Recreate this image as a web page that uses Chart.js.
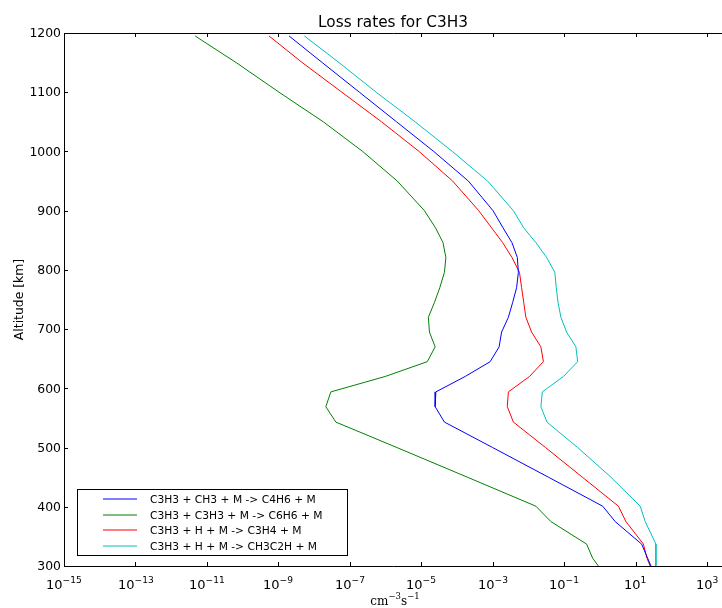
<!DOCTYPE html>
<html>
<head>
<meta charset="utf-8">
<title>Loss rates for C3H3</title>
<script src="https://cdn.jsdelivr.net/npm/chart.js@4/dist/chart.umd.min.js"></script>
<style>
html, body { margin: 0; padding: 0; background: #fff; }
#wrap { width: 722px; height: 608px; position: relative; }
</style>
</head>
<body>
<div id="wrap"><canvas id="lossChart" width="722" height="608"></canvas></div>
<script>
'use strict';

// altitude grid [km]
var altitude = [1195, 1150, 1100, 1050, 1000, 950, 900, 871, 846, 821, 796, 770, 745, 720,
                695, 670, 645, 620, 594, 569, 543, 500, 450, 401, 375, 337, 313, 300];

// log10 of the loss rate [cm^-3 s^-1], one value per altitude
var lossCH3    = [-8.70, -7.77, -6.73, -5.69, -4.65, -3.68, -2.99, -2.71, -2.46, -2.31, -2.28, -2.33, -2.44, -2.56,
                  -2.75, -2.82, -3.07, -3.77, -4.59, -4.61, -4.35, -3.00, -1.44, 0.08, 0.43, 1.17, 1.34, 1.43];
var lossC3H3   = [-11.33, -10.18, -8.98, -7.74, -6.64, -5.67, -4.91, -4.60, -4.39, -4.31, -4.35, -4.48, -4.63, -4.80,
                  -4.77, -4.61, -4.83, -6.01, -7.53, -7.67, -7.39, -5.68, -3.71, -1.79, -1.37, -0.37, -0.20, -0.04];
var lossC3H4   = [-9.26, -8.33, -7.22, -6.11, -5.06, -4.12, -3.39, -3.03, -2.72, -2.46, -2.25, -2.19, -2.13, -2.07,
                  -1.91, -1.65, -1.58, -1.97, -2.56, -2.59, -2.42, -1.52, -0.49, 0.52, 0.73, 1.22, 1.32, 1.41];
var lossCH3C2H = [-8.27, -7.30, -6.26, -5.17, -4.13, -3.14, -2.42, -2.13, -1.79, -1.49, -1.26, -1.22, -1.17, -1.09,
                  -0.93, -0.67, -0.62, -1.02, -1.61, -1.65, -1.48, -0.62, 0.31, 1.13, 1.27, 1.57, 1.57, 1.57];

var seriesLabels = [
    'C3H3 + CH3 + M -> C4H6 + M',
    'C3H3 + C3H3 + M -> C6H6 + M',
    'C3H3 + H + M -> C3H4 + M',
    'C3H3 + H + M -> CH3C2H + M'
];
var seriesColors = ['#0000ff', '#008000', '#ff0000', '#00bfbf'];

var xTickExp = [-15, -13, -11, -9, -7, -5, -3, -1, 1, 3];
var yTicks = [300, 400, 500, 600, 700, 800, 900, 1000, 1100, 1200];

var SANS = '"DejaVu Sans", sans-serif';
var SERIF = '"DejaVu Serif", "Liberation Serif", serif';

function points(logs) {
    return altitude.map(function(a, i) { return { x: Math.pow(10, logs[i]), y: a }; });
}

function minus(n) { return (n < 0 ? '\u2212' : '') + Math.abs(n); }

// "10" with a raised exponent, centred on x
function drawPow(ctx, x, y, exp, size) {
    var sup = minus(exp);
    ctx.font = size + 'px ' + SANS;
    var wb = ctx.measureText('10').width;
    ctx.font = (size * 0.7) + 'px ' + SANS;
    var ws = ctx.measureText(sup).width;
    var x0 = Math.round(x - (wb + ws) / 2);
    ctx.textAlign = 'left';
    ctx.textBaseline = 'alphabetic';
    ctx.font = size + 'px ' + SANS;
    ctx.fillText('10', x0, y);
    ctx.font = (size * 0.7) + 'px ' + SANS;
    ctx.fillText(sup, x0 + wb, y - size * 0.5);
}

// frame, inward ticks, labels, title and legend in matplotlib style
var decorPlugin = {
    id: 'decor',
    afterDatasetsDraw: function(chart) {
        var ctx = chart.ctx, a = chart.chartArea;
        var xs = chart.scales.x, ys = chart.scales.y;
        ctx.save();
        ctx.fillStyle = '#000';
        ctx.strokeStyle = '#000';
        ctx.lineWidth = 1;

        // axes frame (right side runs off the canvas)
        ctx.beginPath();
        ctx.moveTo(a.right + 2, a.top + 0.5);
        ctx.lineTo(a.left + 0.5, a.top + 0.5);
        ctx.lineTo(a.left + 0.5, a.bottom + 0.5);
        ctx.lineTo(a.right + 2, a.bottom + 0.5);
        ctx.stroke();

        // x ticks, bottom and top
        ctx.beginPath();
        xTickExp.forEach(function(e) {
            var px = Math.round(xs.getPixelForValue(Math.pow(10, e))) + 0.5;
            ctx.moveTo(px, a.bottom); ctx.lineTo(px, a.bottom - 4);
            ctx.moveTo(px, a.top); ctx.lineTo(px, a.top + 4);
        });
        // y ticks
        yTicks.forEach(function(v) {
            var py = Math.round(ys.getPixelForValue(v)) + 0.5;
            ctx.moveTo(a.left, py); ctx.lineTo(a.left + 4, py);
        });
        ctx.stroke();

        // tick labels
        xTickExp.forEach(function(e) {
            drawPow(ctx, xs.getPixelForValue(Math.pow(10, e)), a.bottom + 23, e, 13);
        });
        ctx.font = '12.4px ' + SANS;
        ctx.textAlign = 'right';
        ctx.textBaseline = 'middle';
        yTicks.forEach(function(v) {
            ctx.fillText(String(v), a.left - 3, ys.getPixelForValue(v) + 1);
        });

        // title
        var cx = (a.left + a.right) / 2;
        ctx.font = '15.3px ' + SANS;
        ctx.textAlign = 'center';
        ctx.textBaseline = 'alphabetic';
        ctx.fillText('Loss rates for C3H3', cx, 27);

        // y axis title
        ctx.save();
        ctx.translate(23, (a.top + a.bottom) / 2);
        ctx.rotate(-Math.PI / 2);
        ctx.font = '12.4px ' + SANS;
        ctx.textAlign = 'center';
        ctx.fillText('Altitude [km]', 0, 0);
        ctx.restore();

        // x axis title: cm^-3 s^-1
        var parts = [['cm', 0], [minus(-3), 1], ['s', 0], [minus(-1), 1]];
        var widths = parts.map(function(p) {
            ctx.font = (p[1] ? 8.5 : 12) + 'px ' + SERIF;
            return ctx.measureText(p[0]).width;
        });
        var tx = cx + 2 - widths.reduce(function(s, w) { return s + w; }, 0) / 2;
        ctx.textAlign = 'left';
        parts.forEach(function(p, i) {
            ctx.font = (p[1] ? 8.5 : 12) + 'px ' + SERIF;
            ctx.fillText(p[0], tx, p[1] ? 599 : 605);
            tx += widths[i];
        });

        // legend box with line samples
        ctx.fillStyle = '#fff';
        ctx.fillRect(77, 489, 270, 66);
        ctx.strokeRect(77.5, 489.5, 270, 66);
        ctx.font = '10.7px ' + SANS;
        ctx.textBaseline = 'middle';
        seriesLabels.forEach(function(label, i) {
            var ry = Math.round(499 + i * 15.5);
            ctx.strokeStyle = seriesColors[i];
            ctx.lineWidth = 1.2;
            ctx.beginPath();
            ctx.moveTo(103, ry); ctx.lineTo(137, ry);
            ctx.stroke();
            ctx.fillStyle = '#000';
            ctx.fillText(label, 150, ry + 1);
        });
        ctx.restore();
    }
};

var rates = [lossCH3, lossC3H3, lossC3H4, lossCH3C2H];

new Chart(document.getElementById('lossChart').getContext('2d'), {
    type: 'scatter',
    data: {
        datasets: rates.map(function(r, i) {
            return {
                label: seriesLabels[i],
                data: points(r),
                showLine: true,
                borderColor: seriesColors[i],
                backgroundColor: seriesColors[i],
                borderWidth: 1,
                pointRadius: 0,
                tension: 0
            };
        })
    },
    options: {
        responsive: false,
        devicePixelRatio: 1,
        animation: false,
        layout: { padding: { top: 33, right: 0, left: 0, bottom: 0 } },
        plugins: {
            legend: { display: false },
            title: { display: false },
            tooltip: { enabled: false }
        },
        scales: {
            x: {
                type: 'logarithmic',
                min: 1e-15,
                max: 2630,
                grid: { display: false },
                border: { display: false },
                ticks: { display: false },
                afterFit: function(s) { s.height = 42; }
            },
            y: {
                type: 'linear',
                min: 300,
                max: 1200,
                grid: { display: false },
                border: { display: false },
                ticks: { display: false, stepSize: 100 },
                afterFit: function(s) { s.width = 64; }
            }
        }
    },
    plugins: [decorPlugin]
});
</script>
</body>
</html>
